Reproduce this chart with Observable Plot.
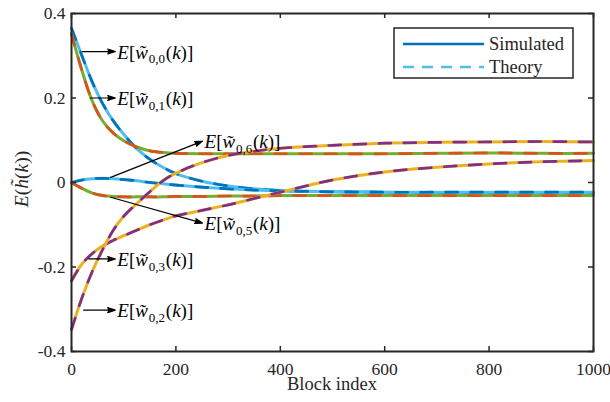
<!DOCTYPE html>
<html><head><meta charset="utf-8">
<script src="https://cdn.jsdelivr.net/npm/d3@7"></script>
<script src="https://cdn.jsdelivr.net/npm/@observablehq/plot@0.6"></script>
<style>
body{margin:0;background:#fff;}
#chart{width:610px;height:402px;}
</style></head><body><div id="chart"></div>
<script>
// ---- data ----
const blockIndex = [0, 20, 40, 60, 80, 100, 125, 150, 175, 200, 250, 300, 350, 400, 450, 500, 600, 700, 800, 900, 1000];
const w00 = [0.365, 0.300, 0.237, 0.186, 0.146, 0.114, 0.080, 0.055, 0.036, 0.021, 0.003, -0.008, -0.015, -0.019, -0.021, -0.022, -0.023, -0.024, -0.024, -0.024, -0.024];
const w01 = [0.352, 0.265, 0.192, 0.145, 0.117, 0.099, 0.084, 0.075, 0.071, 0.069, 0.068, 0.068, 0.068, 0.068, 0.068, 0.068, 0.068, 0.069, 0.070, 0.069, 0.069];
const w02 = [-0.348, -0.273, -0.210, -0.158, -0.113, -0.080, -0.050, -0.022, 0.004, 0.022, 0.047, 0.064, 0.074, 0.081, 0.085, 0.088, 0.093, 0.095, 0.096, 0.097, 0.096];
const w03 = [-0.233, -0.193, -0.168, -0.150, -0.137, -0.126, -0.113, -0.100, -0.089, -0.079, -0.066, -0.053, -0.038, -0.023, -0.008, 0.006, 0.025, 0.036, 0.044, 0.049, 0.052];
const w05 = [0.000, -0.014, -0.025, -0.031, -0.033, -0.034, -0.034, -0.034, -0.034, -0.033, -0.033, -0.032, -0.032, -0.031, -0.031, -0.031, -0.031, -0.031, -0.031, -0.031, -0.031];
const w06 = [0.000, 0.006, 0.009, 0.010, 0.009, 0.007, 0.004, 0.000, -0.003, -0.006, -0.011, -0.015, -0.018, -0.020, -0.021, -0.022, -0.023, -0.023, -0.023, -0.023, -0.023];

const seriesNames = ["w00", "w01", "w06", "w05", "w03", "w02"];
const seriesValues = [w00, w01, w06, w05, w03, w02];

const xTicks = [0, 200, 400, 600, 800, 1000];
const xTickLabels = ["0", "200", "400", "600", "800", "1000"];
const yTicks = [-0.4, -0.2, 0, 0.2, 0.4];
const yTickLabels = ["-0.4", "-0.2", "0", "0.2", "0.4"];

const legendLabels = ["Simulated", "Theory"];

// annotations (data units)
const annoSub = ["0,0", "0,1", "0,6", "0,5", "0,3", "0,2"];
const annoFromK = [21, 36, 75, 75, 33, 23];
const annoFromV = [0.31, 0.20, 0.012, -0.035, -0.181, -0.302];
const annoToK = [84, 84, 251, 251, 84, 84];
const annoToV = [0.31, 0.20, 0.098, -0.096, -0.181, -0.302];

// ---- styles ----
const solidColor = {w00: "#4DBEEE", w06: "#4DBEEE", w01: "#77AC30", w05: "#77AC30", w02: "#EDB120", w03: "#EDB120"};
const dashColor = {w00: "#0072BD", w06: "#0072BD", w01: "#D95319", w05: "#D95319", w02: "#7E2F8E", w03: "#7E2F8E"};

const rows = seriesNames.flatMap((s, j) => blockIndex.map((k, i) => ({series: s, k, v: seriesValues[j][i]})));
const annos = annoSub.map((s, i) => ({sub: s, x1: annoFromK[i], y1: annoFromV[i], x2: annoToK[i], y2: annoToV[i]}));

const W = 610, H = 402, mL = 71, mR = 17, mT = 13, mB = 51;
const innerW = W - mL - mR, innerH = H - mT - mB;
const FONT = "'Liberation Serif', 'Times New Roman', serif";

const lineMarks = [];
for (const s of seriesNames) {
  const d = rows.filter(r => r.series === s);
  lineMarks.push(Plot.line(d, {x: "k", y: "v", stroke: solidColor[s], strokeWidth: 3, curve: "catmull-rom"}));
  lineMarks.push(Plot.line(d, {x: "k", y: "v", stroke: dashColor[s], strokeWidth: 2.7, strokeDasharray: "12,13", curve: "catmull-rom"}));
}

const plot = Plot.plot({
  width: W, height: H,
  marginLeft: mL, marginRight: mR, marginTop: mT, marginBottom: mB,
  style: {fontFamily: FONT, fontSize: "17px", background: "white", color: "#262626"},
  x: {domain: [0, 1000]},
  y: {domain: [-0.4, 0.4]},
  marks: [
    ...lineMarks,
    Plot.arrow(annos, {x1: "x1", y1: "y1", x2: "x2", y2: "y2", stroke: "black", fill: "black", strokeWidth: 1.2, headLength: 10, headAngle: 36}),
    Plot.text(annos, {x: "x2", y: "y2", text: "sub", textAnchor: "start", dx: 2, dy: 1, fontSize: 19, fill: "black"}),
    Plot.tickX(xTicks, {x: d => d, insetTop: innerH - 5, stroke: "#262626", strokeWidth: 1.5}),
    Plot.tickX(xTicks, {x: d => d, insetBottom: innerH - 5, stroke: "#262626", strokeWidth: 1.5}),
    Plot.tickY(yTicks, {y: d => d, insetRight: innerW - 5, stroke: "#262626", strokeWidth: 1.5}),
    Plot.tickY(yTicks, {y: d => d, insetLeft: innerW - 5, stroke: "#262626", strokeWidth: 1.5}),
    Plot.axisX(xTicks, {tickSize: 0, tickPadding: 11, tickFormat: d => xTickLabels[xTicks.indexOf(d)], label: null, fontSize: 17.5}),
    Plot.axisY(yTicks, {tickSize: 0, tickPadding: 6, tickFormat: d => yTickLabels[yTicks.indexOf(d)], label: null, fontSize: 17.5}),
    Plot.frame({stroke: "#262626", strokeWidth: 2})
  ]
});
document.getElementById("chart").appendChild(plot);

const svg = d3.select(plot);

function rich(el, parts, subSize) {
  el.textContent = "";
  let down = false;
  for (const [t, s] of parts) {
    const ts = d3.select(el).append("tspan").text(t);
    if (s === "i") ts.attr("font-style", "italic");
    if (s === "s") { ts.attr("font-size", subSize + "px").attr("dy", 4.5).attr("dx", 0.8); down = true; }
    else if (down) { ts.attr("dy", -4.5).attr("dx", 0.8); down = false; }
  }
}

// rich-text annotation labels
svg.selectAll('g[aria-label="text"] text').each(function () {
  const sub = this.textContent;
  rich(this, [["E", "i"], ["[", "n"], ["w\u0303", "i"], [sub, "s"], ["(", "n"], ["k", "i"], [")]", "n"]], 13);
});

// axis titles
svg.append("text")
  .attr("x", mL + innerW / 2).attr("y", 390)
  .attr("text-anchor", "middle").attr("font-size", 18.5).attr("fill", "#262626")
  .attr("font-family", FONT)
  .text("Block index");

const yl = svg.append("text")
  .attr("transform", `translate(28,${mT + innerH / 2 - 3}) rotate(-90)`)
  .attr("text-anchor", "middle").attr("font-size", 19.5).attr("fill", "#262626")
  .attr("font-family", FONT);
rich(yl.node(), [["E", "i"], ["(", "n"], ["h\u0303", "i"], ["(", "n"], ["k", "i"], ["))", "n"]], 13);

// legend
const lg = svg.append("g").attr("font-family", FONT).attr("text-anchor", "start");
lg.append("rect").attr("x", 394).attr("y", 28).attr("width", 179).attr("height", 50)
  .attr("fill", "white").attr("stroke", "#262626").attr("stroke-width", 1.5);
lg.append("line").attr("x1", 403).attr("x2", 484).attr("y1", 44).attr("y2", 44)
  .attr("stroke", "#0072BD").attr("stroke-width", 2.5);
lg.append("line").attr("x1", 403).attr("x2", 484).attr("y1", 67).attr("y2", 67)
  .attr("stroke", "#4DBEEE").attr("stroke-width", 2.5).attr("stroke-dasharray", "11,8");
lg.append("text").attr("x", 489).attr("y", 50).attr("font-size", 18.5).attr("fill", "#262626").attr("text-anchor", "start").text(legendLabels[0]);
lg.append("text").attr("x", 489).attr("y", 73).attr("font-size", 18.5).attr("fill", "#262626").attr("text-anchor", "start").text(legendLabels[1]);
</script>
</body></html>
